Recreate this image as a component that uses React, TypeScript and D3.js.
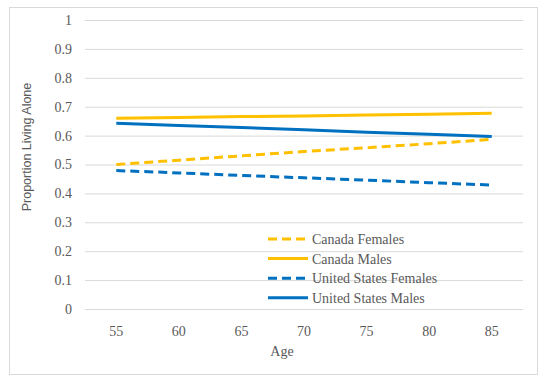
import * as d3 from "d3";
import React, { useRef, useEffect } from "react";

const ages = ["55", "60", "65", "70", "75", "80", "85"];
const canadaFemales = [0.5, 0.515, 0.53, 0.545, 0.558, 0.572, 0.587];
const canadaMales = [0.66, 0.663, 0.666, 0.668, 0.671, 0.674, 0.677];
const usFemales = [0.479, 0.471, 0.462, 0.454, 0.446, 0.437, 0.429];
const usMales = [0.643, 0.635, 0.628, 0.62, 0.612, 0.605, 0.597];
const yTicks = [0, 0.1, 0.2, 0.3, 0.4, 0.5, 0.6, 0.7, 0.8, 0.9, 1];

const series = [
  { name: "Canada Females", values: canadaFemales, color: "#FFC000", dashed: true },
  { name: "Canada Males", values: canadaMales, color: "#FFC000", dashed: false },
  { name: "United States Females", values: usFemales, color: "#0070C0", dashed: true },
  { name: "United States Males", values: usMales, color: "#0070C0", dashed: false },
];

const App = () => {
  const svgRef = useRef<SVGSVGElement>(null);
  const w = 550;
  const h = 383;

  useEffect(() => {
    const svg = d3.select(svgRef.current);
    svg.selectAll("*").remove();

    const left = 85, right = 523, top = 20, bottom = 309;
    const serif = "'Liberation Serif', 'Times New Roman', serif";
    const grey = "#595959";

    // outer frame
    svg.append("rect")
      .attr("x", 9.5).attr("y", 7.5)
      .attr("width", 528).attr("height", 367)
      .attr("fill", "white")
      .attr("stroke", "#d9d9d9");

    const xScale = d3.scaleBand().domain(ages).range([left, right]);
    const yScale = d3.scaleLinear().domain([0, 1]).range([bottom, top]);

    // gridlines + y axis
    const yAxis = d3.axisLeft(yScale)
      .tickValues(yTicks)
      .tickSize(-(right - left))
      .tickPadding(13)
      .tickFormat(d => String(d));
    const gy = svg.append("g")
      .attr("transform", `translate(${left},0)`)
      .call(yAxis)
      .attr("font-family", serif)
      .attr("font-size", 14);
    gy.select(".domain").remove();
    gy.selectAll(".tick line").attr("stroke", "#d9d9d9").attr("stroke-width", 1);
    gy.selectAll(".tick text").attr("fill", grey);

    // x axis
    const xAxis = d3.axisBottom(xScale).tickSize(0).tickPadding(17);
    const gx = svg.append("g")
      .attr("transform", `translate(0,${bottom})`)
      .call(xAxis)
      .attr("font-family", serif)
      .attr("font-size", 14);
    gx.select(".domain").remove();
    gx.selectAll(".tick text").attr("fill", grey);

    // lines
    const line = d3.line<number>()
      .x((d, i) => (xScale(ages[i]) as number) + xScale.bandwidth() / 2)
      .y(d => yScale(d));

    series.forEach(s => {
      svg.append("path")
        .datum(s.values)
        .attr("d", line)
        .attr("fill", "none")
        .attr("stroke", s.color)
        .attr("stroke-width", 3)
        .attr("stroke-dasharray", s.dashed ? "9,5" : null);
    });

    // legend
    const legend = svg.append("g").attr("transform", "translate(268,239)");
    series.forEach((s, i) => {
      const row = legend.append("g").attr("transform", `translate(0,${i * 19.6})`);
      row.append("line")
        .attr("x1", 0).attr("x2", s.dashed ? 37 : 40)
        .attr("y1", 0).attr("y2", 0)
        .attr("stroke", s.color)
        .attr("stroke-width", 3)
        .attr("stroke-dasharray", s.dashed ? "9,5" : null);
      row.append("text")
        .attr("x", 44).attr("y", 0)
        .attr("dy", "0.35em")
        .attr("fill", grey)
        .style("font-family", serif)
        .style("font-size", "14px")
        .text(s.name);
    });

    // axis titles
    svg.append("text")
      .attr("x", 282).attr("y", 356)
      .attr("text-anchor", "middle")
      .attr("fill", grey)
      .style("font-family", serif)
      .style("font-size", "14px")
      .text("Age");

    svg.append("text")
      .attr("transform", "translate(31,147) rotate(-90)")
      .attr("text-anchor", "middle")
      .attr("fill", grey)
      .style("font-family", "'Liberation Sans', Arial, sans-serif")
      .style("font-size", "12.5px")
      .text("Proportion Living Alone");
  }, []);

  return (
    <svg
      ref={svgRef}
      width={w}
      height={h}
      style={{ position: "absolute", left: 0, top: 0, background: "white" }}
    />
  );
};

export default App;
